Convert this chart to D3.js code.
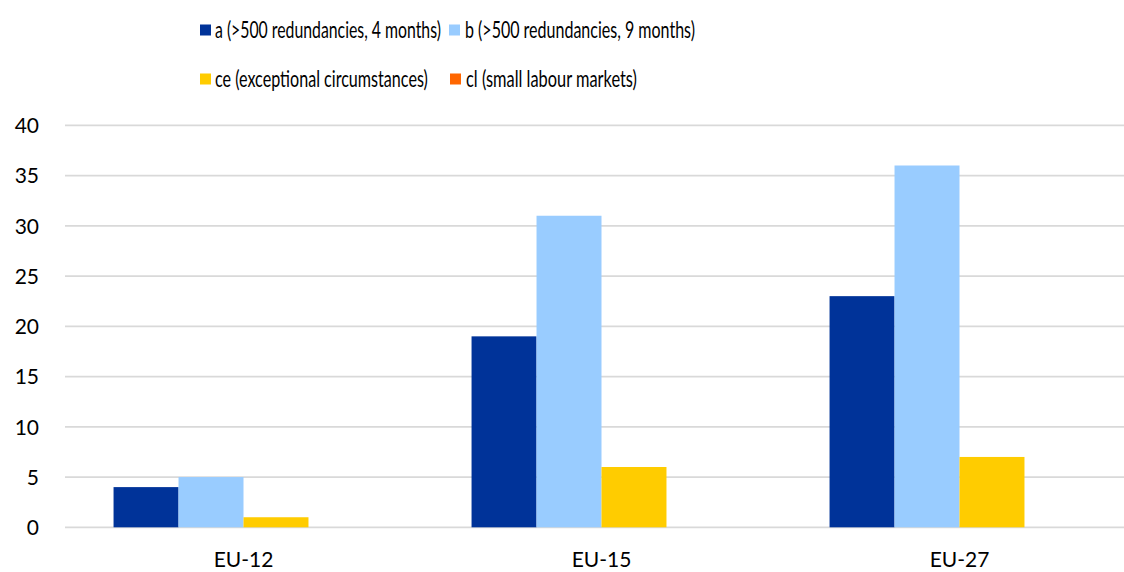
<!DOCTYPE html>
<html><head><meta charset="utf-8">
<script src="https://cdn.jsdelivr.net/npm/d3@7"></script>
<style>body{margin:0;background:#fff;} text{font-family:Lato,"Open Sans",sans-serif;fill:#000;}</style>
</head><body>
<svg id="c" width="1124" height="572"></svg>
<script>
const categories = ["EU-12", "EU-15", "EU-27"];
const seriesNames = ["a (>500 redundancies, 4 months)", "b (>500 redundancies, 9 months)", "ce (exceptional circumstances)", "cl (small labour markets)"];
const seriesA = [4, 19, 23];
const seriesB = [5, 31, 36];
const seriesCE = [1, 6, 7];
const seriesCL = [0, 0, 0];
const colors = ["#003399", "#99CCFF", "#FFCC00", "#FF6600"];
const yTicks = [0, 5, 10, 15, 20, 25, 30, 35, 40];

const series = [seriesA, seriesB, seriesCE, seriesCL];
const svg = d3.select("#c");
const x0 = d3.scaleBand().domain(categories).range([64.5, 1138.5]).paddingInner(0.274).paddingOuter(0.137);
const x1 = d3.scaleBand().domain(d3.range(series.length)).range([0, x0.bandwidth()]);
const y = d3.scaleLinear().domain([0, 40]).range([527.3, 125.3]);

// gridlines
svg.append("g").selectAll("line").data(yTicks).join("line")
  .attr("x1", 65).attr("x2", 1124)
  .attr("y1", d => y(d)).attr("y2", d => y(d))
  .attr("stroke", "#d9d9d9").attr("stroke-width", 1.8);

// y axis labels
const yAxis = d3.axisLeft(y).tickValues(yTicks).tickSize(0).tickPadding(0);
const gy = svg.append("g").attr("transform", "translate(39,0)").call(yAxis);
gy.select(".domain").remove();
gy.selectAll("text").style("font-size", "21px").attr("dy", "0.35em").style("font-family", "Lato, sans-serif").attr("fill", "#000");

// bars
const groups = svg.append("g").selectAll("g").data(categories).join("g")
  .attr("transform", d => `translate(${x0(d)},0)`);
groups.selectAll("rect").data((d, i) => series.map((s, k) => ({k, v: s[i]}))).join("rect")
  .attr("x", d => x1(d.k)).attr("width", x1.bandwidth())
  .attr("y", d => y(d.v)).attr("height", d => y(0) - y(d.v))
  .attr("fill", d => colors[d.k]);

// x axis labels
const xAxis = d3.axisBottom(x0).tickSize(0).tickPadding(0);
const gx = svg.append("g").attr("transform", "translate(0,560)").call(xAxis);
gx.select(".domain").remove();
gx.selectAll("text").style("font-size", "21px").attr("dy", "0.35em").attr("y", 0).style("font-family", "Lato, sans-serif").attr("fill", "#000");

// legend
const legendPos = [[200, 30], [449, 30], [200, 79], [450, 79]];
const legendTextX = [15, 16, 15, 16];
const legendLen = [226, 230, 213, 171];
const lg = svg.append("g").selectAll("g").data(seriesNames).join("g")
  .attr("transform", (d, i) => `translate(${legendPos[i][0]},${legendPos[i][1]})`);
lg.append("rect").attr("x", 0).attr("y", -5.5).attr("width", 11).attr("height", 11).attr("fill", (d, i) => colors[i]);
lg.append("text").attr("dy", "0.35em").style("font-size", "23.5px").text(d => d)
  .each(function(d, i) {
    const w = this.getComputedTextLength();
    const s = legendLen[i] / w;
    d3.select(this).attr("transform", `translate(${legendTextX[i]},0) scale(${s},1)`);
  });
</script>
</body></html>
